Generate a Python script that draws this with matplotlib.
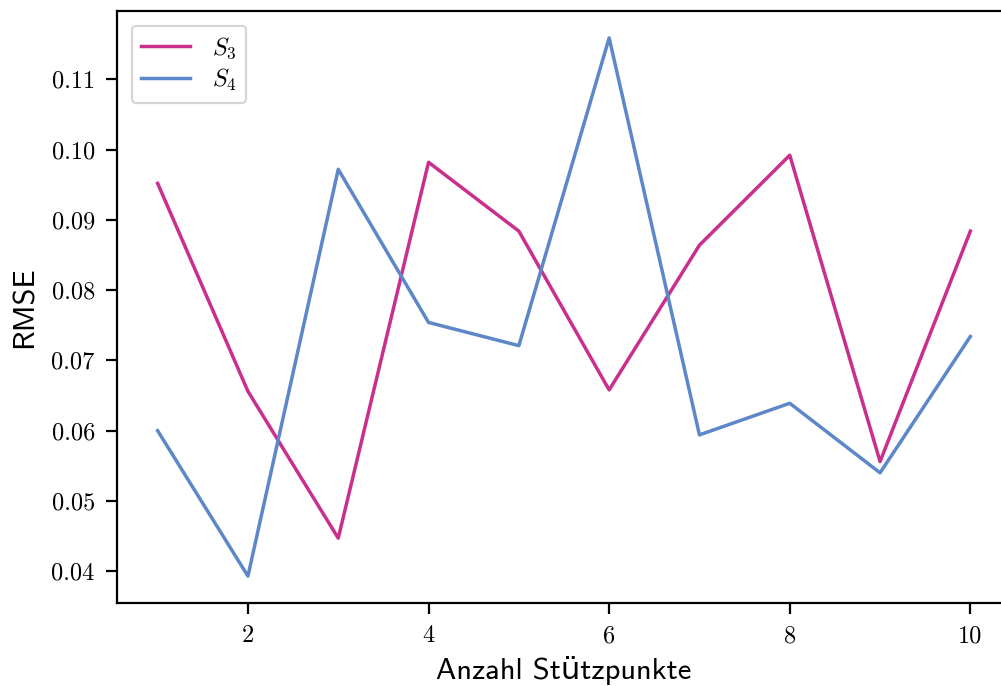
import matplotlib
matplotlib.use('Agg')
import matplotlib.pyplot as plt

# data
stuetzpunkte = [1, 2, 3, 4, 5, 6, 7, 8, 9, 10]
rmse_s3 = [0.0952, 0.0656, 0.0447, 0.0982, 0.0884, 0.0658, 0.0864, 0.0992, 0.0556, 0.0884]
rmse_s4 = [0.0600, 0.0393, 0.0972, 0.0754, 0.0721, 0.1159, 0.0594, 0.0639, 0.0540, 0.0734]
xticks = [2, 4, 6, 8, 10]
yticks = [0.04, 0.05, 0.06, 0.07, 0.08, 0.09, 0.10, 0.11]

plt.rcParams['font.family'] = 'cmr10'
plt.rcParams['mathtext.fontset'] = 'cm'
plt.rcParams['axes.formatter.use_mathtext'] = True

fig = plt.figure(figsize=(10.01, 6.86), dpi=100)
ax = fig.add_axes([117 / 1001, 1 - 603 / 686, 894 / 1001, 592 / 686])

ax.plot(stuetzpunkte, rmse_s3, color='#c92f8d', lw=2.5, label=r'$S_3$')
ax.plot(stuetzpunkte, rmse_s4, color='#5d87c9', lw=2.5, label=r'$S_4$')

ax.set_xticks(xticks)
ax.set_yticks(yticks)
ax.set_xticklabels([str(t) for t in xticks])
ax.set_yticklabels(['%.2f' % t for t in yticks])
ax.tick_params(labelsize=17.5, length=8, width=1.6, pad=8)

for s in ax.spines.values():
    s.set_linewidth(1.6)
ax.spines['right'].set_visible(False)

ax.set_xlabel('Anzahl St\u00fctzpunkte', family=['cmss10', 'DejaVu Sans'], fontsize=22, labelpad=6)
ax.set_ylabel('RMSE', family=['cmss10', 'DejaVu Sans'], fontsize=22, labelpad=9)

leg = ax.legend(loc='upper left', fontsize=17.5, handlelength=2.0, labelspacing=0.25,
                borderaxespad=0.6, handletextpad=0.9)
leg.get_frame().set_linewidth(1.6)

fig.savefig('out.png', dpi=100)
